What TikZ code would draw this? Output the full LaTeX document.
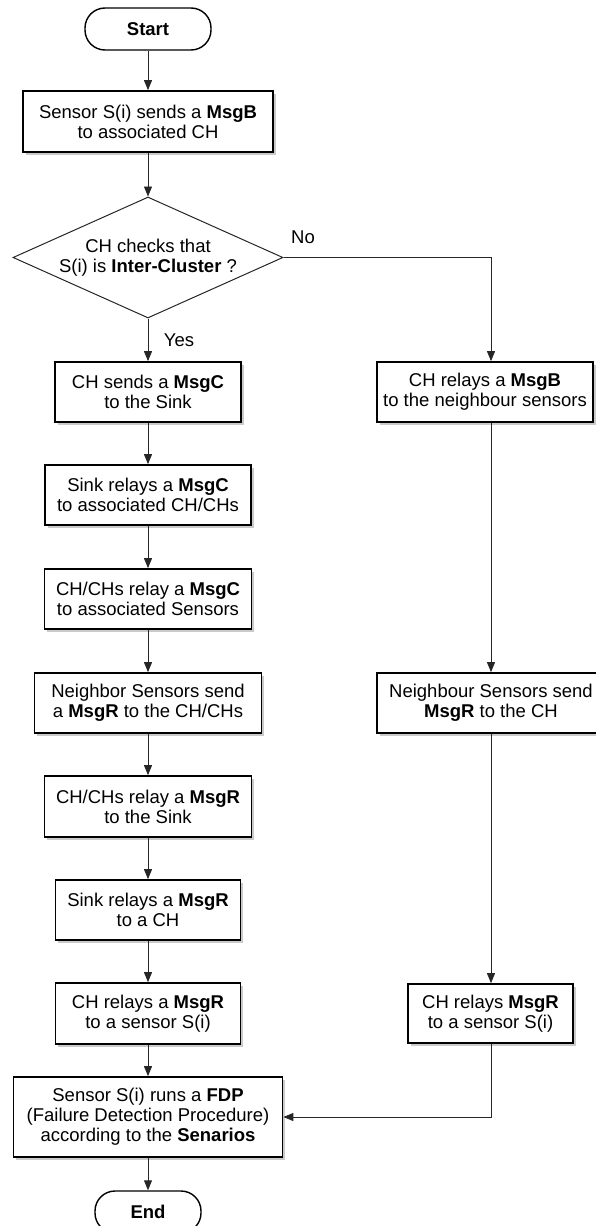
\documentclass[tikz,border=0pt]{standalone}
\usepackage{fontspec}
\setmainfont{Liberation Sans}
\usetikzlibrary{arrows.meta,shapes.geometric,shadows}

\begin{document}
\begin{tikzpicture}[x=1pt,y=-1pt,
  font=\fontsize{18.5}{20}\selectfont,
  box/.style={draw=black, line width=1.7pt, fill=white, inner sep=0pt, align=center,
    drop shadow={shadow xshift=2.5pt, shadow yshift=-2.5pt, opacity=0.35, fill=black!60}},
  term/.style={draw=black, line width=1.4pt, fill=white, rounded corners=20pt, inner sep=0pt,
    font=\bfseries\fontsize{18.5}{20}\selectfont},
  decision/.style={draw=black!85, line width=1pt, shape=diamond, inner sep=0pt, fill=white},
  link/.style={draw=black!85, line width=0.9pt, -{Triangle[length=10pt,width=8pt]}},
  lbl/.style={inner sep=0pt}]

\useasboundingbox (0,0) rectangle (595,1226);

% terminals
\node[term, minimum width=126pt, minimum height=42pt] (start) at (148,29) {Start};
\node[term, minimum width=106pt, minimum height=42pt] (end) at (148,1212) {End};

% first step and decision
\node[box, minimum width=250pt, minimum height=61pt] (b1) at (148,121.5)
  {Sensor S(i) sends a \textbf{MsgB}\\to associated CH};
\node[decision, minimum width=270pt, minimum height=121pt] (dec) at (148,257.5) {};
\node[lbl, align=center] (dectxt) at (dec.center) {CH checks that\\S(i) is \textbf{Inter-Cluster} ?};

% inter-cluster branch
\node[box, minimum width=186pt, minimum height=60pt] (c1) at (148,392)
  {CH sends a \textbf{MsgC}\\to the Sink};
\node[box, minimum width=206pt, minimum height=60pt] (c2) at (148,495)
  {Sink relays a \textbf{MsgC}\\to associated CH/CHs};
\node[box, minimum width=207pt, minimum height=60pt] (c3) at (148,599)
  {CH/CHs relay a \textbf{MsgC}\\to associated Sensors};
\node[box, minimum width=227pt, minimum height=60pt] (c4) at (148,703)
  {Neighbor Sensors send\\a \textbf{MsgR} to the CH/CHs};
\node[box, minimum width=207pt, minimum height=61pt] (c5) at (148,806.5)
  {CH/CHs relay a \textbf{MsgR}\\to the Sink};
\node[box, minimum width=185pt, minimum height=60pt] (c6) at (148,910)
  {Sink relays a \textbf{MsgR}\\to a CH};
\node[box, minimum width=185pt, minimum height=61pt] (c7) at (148,1013.5)
  {CH relays a \textbf{MsgR}\\to a sensor S(i)};

% intra-cluster branch
\coordinate (rcol) at (491,0);
\node[box, minimum width=216pt, minimum height=60pt] (r1) at (485,392)
  {CH relays a \textbf{MsgB}\\to the neighbour sensors};
\node[box, minimum width=228pt, minimum height=60pt] (r2) at (491,703)
  {Neighbour Sensors send\\\textbf{MsgR} to the CH};
\node[box, minimum width=165pt, minimum height=59pt] (r3) at (490.5,1013.5)
  {CH relays \textbf{MsgR}\\to a sensor S(i)};

% final step
\node[box, minimum width=269pt, minimum height=80pt] (fin) at (148,1117)
  {Sensor S(i) runs a \textbf{FDP}\\(Failure Detection Procedure)\\according to the \textbf{Senarios}};

% branch labels
\node[lbl] (yes) at (179,340) {Yes};
\node[lbl] (no) at (303,237) {No};

% connectors
\draw[link] (start) -- (b1);
\draw[link] (b1) -- (dec.north);
\draw[link] (dec.south) -- (c1);
\draw[link] (c1) -- (c2);
\draw[link] (c2) -- (c3);
\draw[link] (c3) -- (c4);
\draw[link] (c4) -- (c5);
\draw[link] (c5) -- (c6);
\draw[link] (c6) -- (c7);
\draw[link] (c7) -- (fin);
\draw[link] (fin) -- (end);
\draw[link] (dec.east) -| (r1.north -| rcol);
\draw[link] (r1.south -| rcol) -- (r2.north -| rcol);
\draw[link] (r2.south -| rcol) -- (r3.north -| rcol);
\draw[link] (r3.south -| rcol) |- (fin.east);

\end{tikzpicture}
\end{document}
